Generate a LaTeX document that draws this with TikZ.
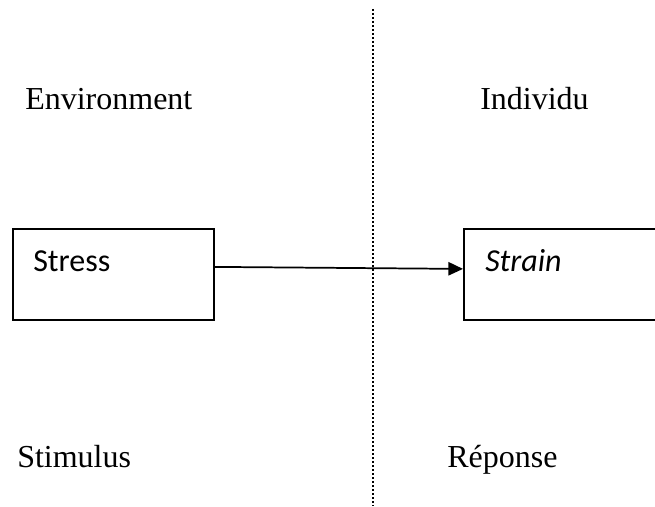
\documentclass[tikz,border=0pt]{standalone}
\usepackage{fontspec}
\setmainfont{Liberation Serif}
\newfontfamily\boxfont{Carlito}
\usetikzlibrary{arrows.meta}

\tikzset{
  zone/.style={anchor=base west,inner sep=0pt,font=\fontsize{24}{28}\selectfont},
  box/.style={draw,line width=1.3pt,anchor=north west,minimum width=201*0.75pt,minimum height=91*0.75pt,inner sep=0pt},
  boxtext/.style={anchor=base west,inner sep=0pt,font=\boxfont\fontsize{24}{28}\selectfont},
  divider/.style={line width=1pt,dash pattern=on 1.6pt off 1.4pt}
}

\begin{document}
\begin{tikzpicture}[x=0.75pt,y=0.75pt,yscale=-1,xscale=1]

\useasboundingbox (0,0) rectangle (655,506);

\draw[divider] (373,9) -- (373,506);

\node[zone] (env) at (25,109) {Environment};
\node[zone] (ind) at (480,109) {Individu};
\node[zone] (stim) at (17,467) {Stimulus};
\node[zone] (rep) at (447,467) {Réponse};

\node[box] (stressbox) at (12,228) {};
\node[box,minimum width=240*0.75pt] (strainbox) at (463,228) {};

\node[boxtext] (stress) at (33,271) {Stress};
\node[boxtext] (strain) at (485,271) {\itshape Strain};

\draw[line width=1.3pt,-{Triangle[length=11pt,width=10pt]}] ([yshift=-5.6pt]stressbox.east) -- ([yshift=-4.1pt]strainbox.west);

\end{tikzpicture}
\end{document}
